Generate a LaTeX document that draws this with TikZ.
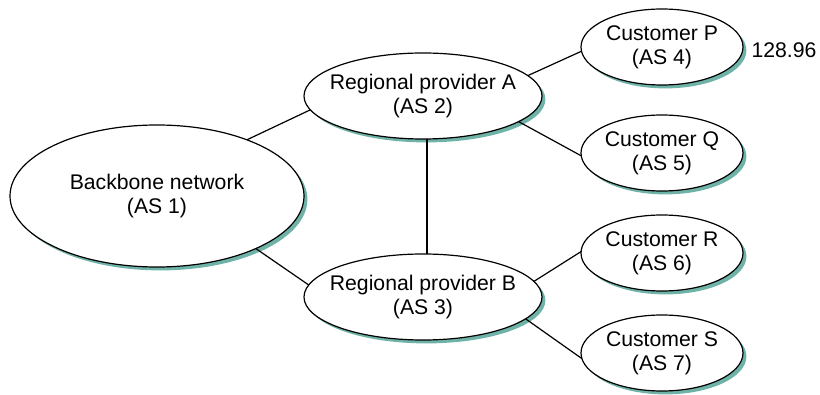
\documentclass[tikz,border=0pt]{standalone}
\usepackage{fontspec}
\setmainfont{Liberation Sans}
\usetikzlibrary{shapes.geometric,shadows}
\definecolor{shadowteal}{HTML}{6FB3A8}
\newcommand{\asfont}{\fontsize{10.6pt}{12pt}\selectfont}
\tikzset{
  asnode/.style={ellipse, draw, line width=0.6pt, fill=white, inner sep=0pt, outer sep=0pt,
    drop shadow={shadow xshift=1.7pt, shadow yshift=-1.7pt, fill=shadowteal, opacity=1}},
  astext/.style={label={[align=center, font=\asfont, inner sep=0pt]center:#1}},
  cust/.style={asnode, minimum width=81pt, minimum height=38pt},
  regional/.style={asnode, minimum width=119pt, minimum height=43pt},
  link/.style={line width=0.6pt}
}
\begin{document}
\begin{tikzpicture}[x=0.5pt,y=-0.5pt]
\useasboundingbox (0,0) rectangle (820,395);
\node[asnode, minimum width=147pt, minimum height=71pt, astext={Backbone network\\(AS 1)}] (bb) at (157,196) {};
\node[regional, astext={Regional provider A\\(AS 2)}] (A) at (423,96) {};
\node[regional, astext={Regional provider B\\(AS 3)}] (B) at (423,297) {};
\node[cust, astext={Customer P\\(AS 4)}] (P) at (662,47) {};
\node[cust, astext={Customer Q\\(AS 5)}] (Q) at (662,153) {};
\node[cust, astext={Customer R\\(AS 6)}] (R) at (662,253) {};
\node[cust, astext={Customer S\\(AS 7)}] (S) at (662,353) {};
\node[font=\asfont, inner sep=0pt] (lbl) at (784,50) {128.96};
\draw[link] (bb.32) -- (A.187);
\draw[link] (bb.-28) -- (B.174);
\draw[link] ([xshift=2pt]A.south) -- ([xshift=2pt]B.north);
\draw[link] (A.11) -- (P.183);
\draw[link] (A.-15) -- (Q.182);
\draw[link] (B.8) -- (R.179);
\draw[link] (B.-12) -- (S.184);
\end{tikzpicture}
\end{document}
